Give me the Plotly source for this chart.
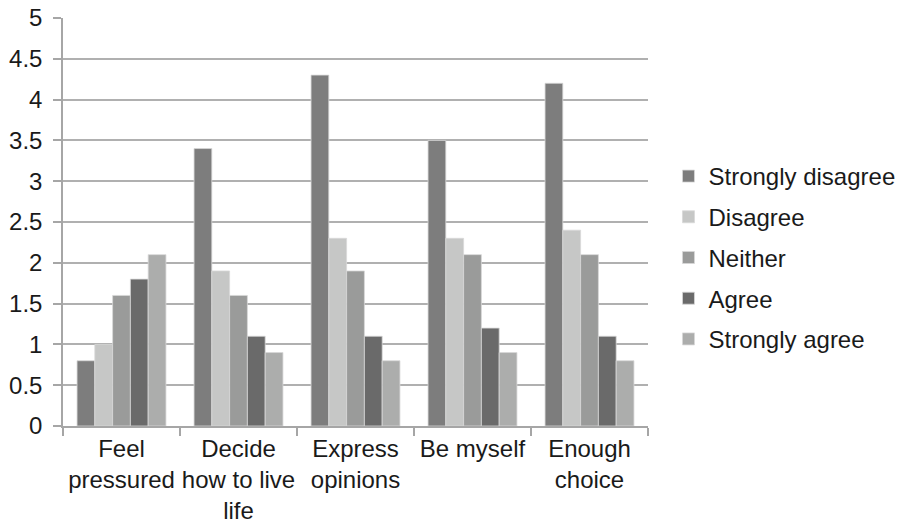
import plotly.graph_objects as go

categories = ["Feel<br>pressured", "Decide<br>how to live<br>life", "Express<br>opinions", "Be myself", "Enough<br>choice"]
series_names = ["Strongly disagree", "Disagree", "Neither", "Agree", "Strongly agree"]
strongly_disagree = [0.8, 3.4, 4.3, 3.5, 4.2]
disagree = [1.0, 1.9, 2.3, 2.3, 2.4]
neither = [1.6, 1.6, 1.9, 2.1, 2.1]
agree = [1.8, 1.1, 1.1, 1.2, 1.1]
strongly_agree = [2.1, 0.9, 0.8, 0.9, 0.8]
y_ticks = [0, 0.5, 1, 1.5, 2, 2.5, 3, 3.5, 4, 4.5, 5]

series_values = [strongly_disagree, disagree, neither, agree, strongly_agree]
colors = ["#7d7d7d", "#c6c7c6", "#9a9b9a", "#6a6a6a", "#acadac"]

fig = go.Figure()
for i, (name, vals, col) in enumerate(zip(series_names, series_values, colors)):
    fig.add_trace(go.Bar(
        x=categories, y=vals, name=name,
        marker=dict(color=col, line=dict(color="#d8d8d8", width=0.8)),
        legendgroup=f"g{i}",
    ))

font = "Liberation Sans, Arial, Helvetica, sans-serif"
fs = 24
fig.update_layout(
    width=915, height=525,
    margin=dict(l=63, r=267, t=18, b=99, autoexpand=False),
    paper_bgcolor="white", plot_bgcolor="white",
    barmode="group", bargap=0.24, bargroupgap=0,
    font=dict(family=font, size=fs, color="#1a1a1a"),
    legend=dict(
        x=1.035, y=0.413, xanchor="left", yanchor="middle",
        font=dict(size=fs, color="#1a1a1a"),
        traceorder="grouped", tracegroupgap=6.5,
        itemwidth=30,
    ),
    xaxis=dict(
        showline=True, linecolor="#a6a6a6", linewidth=1.5,
        ticks="outside", tickson="boundaries", ticklen=8,
        tickcolor="#a6a6a6", tickwidth=1.5,
        showgrid=False, tickfont=dict(size=fs),
        tickangle=0, automargin=False,
    ),
    yaxis=dict(
        range=[0, 5], tickvals=y_ticks,
        ticktext=[f"{v:g}" for v in y_ticks],
        showline=True, linecolor="#a6a6a6", linewidth=1.5,
        ticks="outside", ticklen=8, tickcolor="#a6a6a6", tickwidth=1.5,
        showgrid=True, gridcolor="#b0b0b0", gridwidth=1.5,
        zeroline=False, tickfont=dict(size=fs),
        ticklabelstandoff=6, automargin=False,
    ),
)

fig.write_html("out.html")
